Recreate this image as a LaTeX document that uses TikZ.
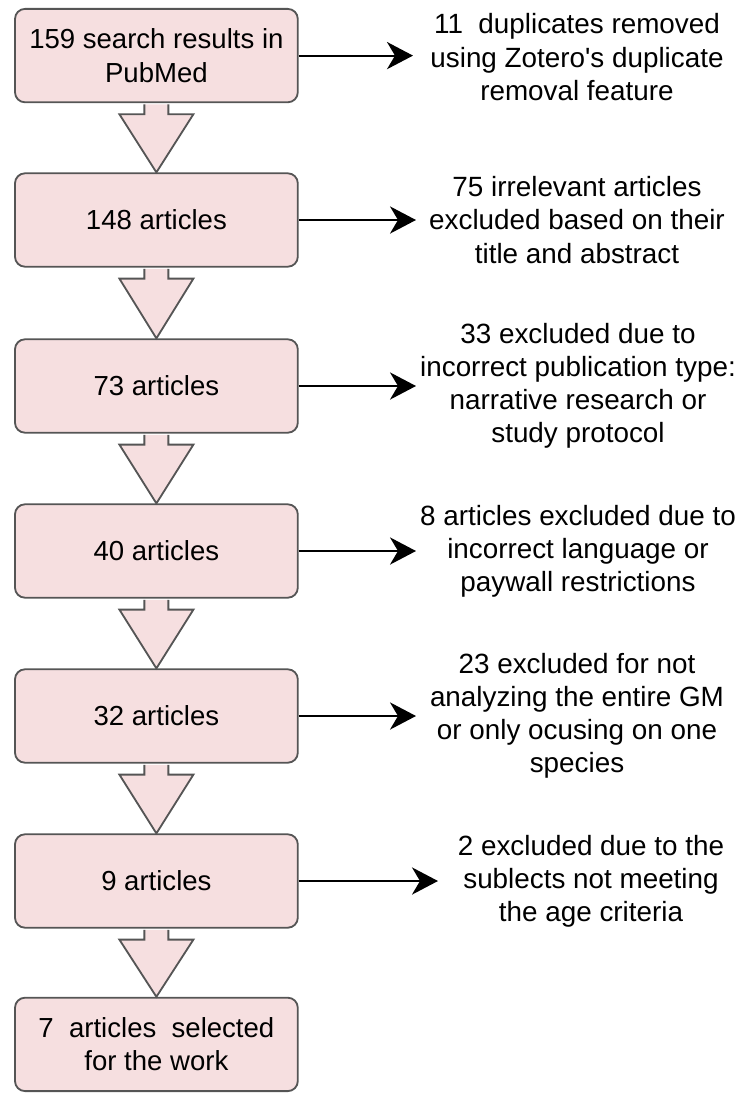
\documentclass[tikz,border=0pt]{standalone}
\usepackage{fontspec}
\setmainfont{Liberation Sans}
\usepackage{tikz}
\usetikzlibrary{arrows.meta, calc}
\usepackage{xcolor}
\definecolor{boxpink}{RGB}{246,223,224}
\definecolor{edgegray}{RGB}{85,85,85}

\begin{document}
\begin{tikzpicture}[
        stage/.style={draw=edgegray, fill=boxpink, line width=1.3pt, rounded corners=0.25cm,
            minimum width=7.07cm, minimum height=2.335cm, align=center, inner sep=0pt,
            font=\fontsize{19.6}{23.6}\selectfont},
        reason/.style={align=center, inner sep=0pt, font=\fontsize{19.8}{23.6}\selectfont},
        flow/.style={draw=edgegray, fill=boxpink, line width=1.3pt, line join=miter},
        exclude/.style={-{Stealth[length=0.65cm, width=0.68cm, inset=0.2cm]}, line width=1.4pt}
    ]
        \useasboundingbox (0,0) rectangle (18.575,-27.325);

        % Stages
        \node[stage] (s1) at (3.91,-1.39) {159 search results in\\PubMed};
        \node[stage] (s2) at (3.91,-5.5) {148 articles};
        \node[stage] (s3) at (3.91,-9.65) {73 articles};
        \node[stage] (s4) at (3.91,-13.775) {40 articles};
        \node[stage] (s5) at (3.91,-17.9) {32 articles};
        \node[stage] (s6) at (3.91,-22.025) {9 articles};
        \node[stage] (s7) at (3.91,-26.11) {7\ \ articles\ \ selected\\for the work};

        % Block arrows between stages
        \foreach \a/\b in {s1/s2, s2/s3, s3/s4, s4/s5, s5/s6, s6/s7}
            \draw[flow] ($(\a.south)+(-0.3,-0.03)$) -- ++(0,-0.245) -- ++(-0.625,0) -- (\b.north)
                -- ($(\a.south)+(0.925,-0.275)$) -- ++(-0.625,0) -- ($(\a.south)+(0.3,-0.03)$);

        % Exclusions
        \node[reason] (r1) at (14.425,-1.43) {11\ \ duplicates removed\\using Zotero{\textquotesingle}s duplicate\\removal feature};
        \node[reason] (r2) at (14.425,-5.5) {75 irrelevant articles\\excluded based on their\\title and abstract};
        \node[reason] (r3) at (14.45,-9.65) {33 excluded due to\\incorrect publication type:\\narrative research or\\study protocol};
        \node[reason] (r4) at (14.45,-13.775) {8 articles excluded due to\\incorrect language or\\paywall restrictions};
        \node[reason] (r5) at (14.425,-17.9) {23 excluded for not\\analyzing the entire GM\\or only ocusing on one\\species};
        \node[reason] (r6) at (14.775,-22.025) {2 excluded due to the\\sublects not meeting\\the age criteria};

        % Side arrows
        \coordinate (t1) at (10.325,-1.39);
        \coordinate (t2) at (10.4,-5.5);
        \coordinate (t3) at (10.4,-9.65);
        \coordinate (t4) at (10.4,-13.775);
        \coordinate (t5) at (10.4,-17.9);
        \coordinate (t6) at (10.95,-22.025);
        \foreach \i in {1,...,6}
            \draw[exclude] (s\i.east) -- (t\i);
    \end{tikzpicture}
\end{document}
